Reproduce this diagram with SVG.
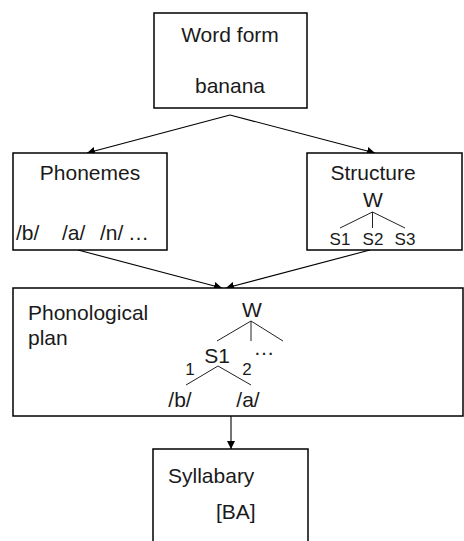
<svg xmlns="http://www.w3.org/2000/svg" width="464" height="541" viewBox="0 0 464 541">
  <style>
    .box { fill: #fff; stroke: #000; stroke-width: 1.5; }
    .t { font-family: "Liberation Sans", Arial, sans-serif; font-size: 21px; fill: #1a1a1a; }
    .s { font-family: "Liberation Sans", Arial, sans-serif; font-size: 17px; fill: #1a1a1a; }
    .mid { text-anchor: middle; }
    .edge { stroke: #000; stroke-width: 1.1; fill: none; marker-end: url(#arrow); }
    .tree { stroke: #222; stroke-width: 1; fill: none; }
  </style>
  <defs>
    <marker id="arrow" viewBox="0 0 10 10" refX="10" refY="5" markerWidth="8" markerHeight="8" markerUnits="userSpaceOnUse" orient="auto">
      <path d="M0,0 L10,5 L0,10 Z" fill="#000"/>
    </marker>
  </defs>
  <rect width="464" height="541" fill="#fff"/>

  <g id="connectors">
    <line class="edge" x1="230" y1="115" x2="87" y2="153"/>
    <line class="edge" x1="230" y1="115" x2="375" y2="153"/>
    <line class="edge" x1="78" y1="250" x2="222" y2="288"/>
    <line class="edge" x1="370" y1="250" x2="226" y2="288"/>
    <line class="edge" x1="231" y1="416" x2="231" y2="449"/>
  </g>

  <g id="word-form">
    <rect class="box" x="154" y="13" width="153" height="95"/>
    <text class="t mid" x="230" y="42">Word form</text>
    <text class="t mid" x="230" y="93">banana</text>
  </g>

  <g id="phonemes">
    <rect class="box" x="13" y="153" width="154" height="97"/>
    <text class="t mid" x="90" y="180">Phonemes</text>
    <text class="t" x="16" y="240">/b/</text>
    <text class="t" x="62" y="240">/a/</text>
    <text class="t" x="100" y="240">/n/</text>
    <text class="t" x="128" y="240">…</text>
  </g>

  <g id="structure">
    <rect class="box" x="307" y="153" width="155" height="97"/>
    <text class="t mid" x="373" y="180">Structure</text>
    <text class="t mid" x="373" y="207">W</text>
    <path class="tree" d="M372.5,212 L340,228 M372.5,212 L372.5,228 M372.5,212 L405,228"/>
    <text class="s mid" x="340" y="245">S1</text>
    <text class="s mid" x="373" y="245">S2</text>
    <text class="s mid" x="405" y="245">S3</text>
  </g>

  <g id="phonological-plan">
    <rect class="box" x="13" y="288" width="450" height="128"/>
    <text class="t" x="28" y="320">Phonological</text>
    <text class="t" x="28" y="345">plan</text>
    <text class="t mid" x="252" y="317">W</text>
    <path class="tree" d="M251,321 L217,341 M251,321 L251,341 M251,321 L283,341"/>
    <text class="t mid" x="217" y="363">S1</text>
    <text class="t mid" x="264" y="355">…</text>
    <text class="s mid" x="190" y="375">1</text>
    <text class="s mid" x="247" y="375">2</text>
    <path class="tree" d="M218,366 L186,385 M218,366 L251,385"/>
    <text class="t mid" x="180" y="407">/b/</text>
    <text class="t mid" x="248" y="407">/a/</text>
  </g>

  <g id="syllabary">
    <rect class="box" x="153" y="449" width="155" height="100"/>
    <text class="t" x="168" y="483">Syllabary</text>
    <text class="t" x="216" y="519">[BA]</text>
  </g>
</svg>
